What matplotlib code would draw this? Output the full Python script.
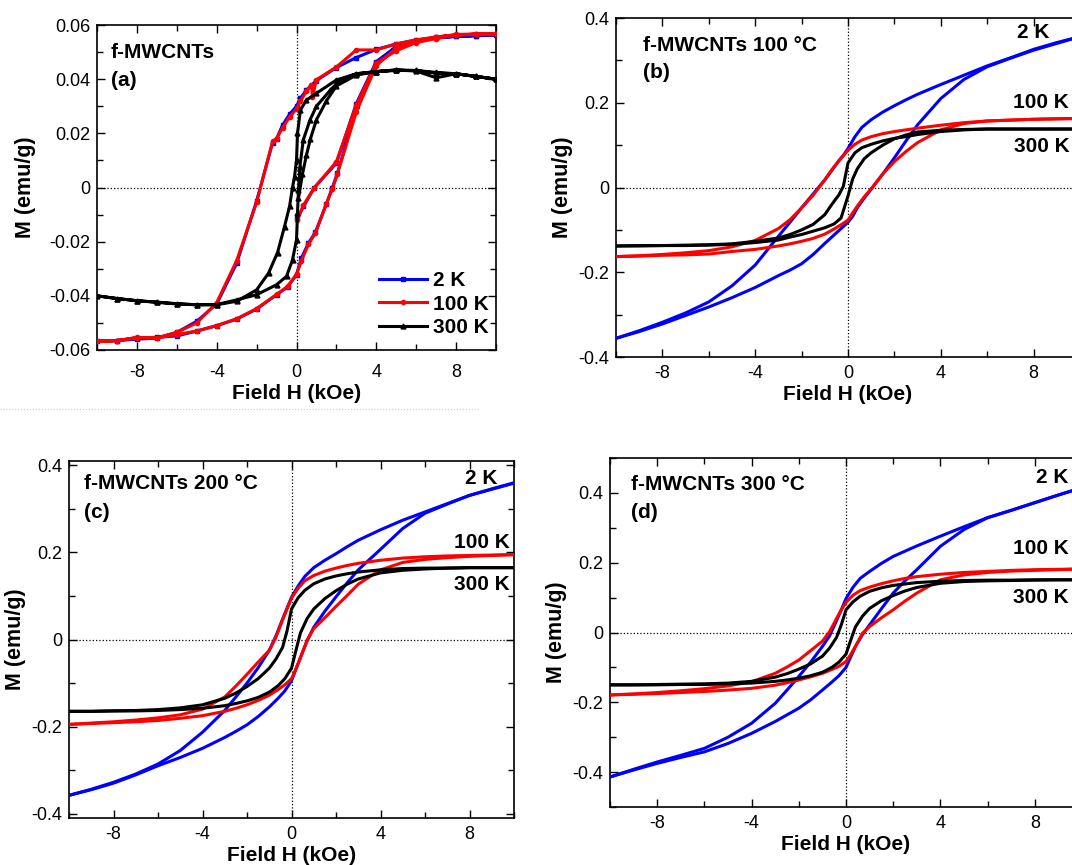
import matplotlib
matplotlib.use("Agg")
import matplotlib.pyplot as plt
from matplotlib.ticker import MultipleLocator, FuncFormatter
from matplotlib.lines import Line2D

plt.rcParams['font.family'] = ['Liberation Sans', 'DejaVu Sans']
plt.rcParams['axes.unicode_minus'] = False

# ---------------- panel (a): f-MWCNTs (sparse points, with markers) ----------------
A_2K_H = [0.05, 0.35, 0.9, 2.0, 3.0, 4.0, 5.0, 6.0, 7.0, 8.0, 9.0, 10.0,
          9, 8, 7, 6, 5, 4, 3, 2, 1, 0.5, 0.2, 0, -0.35, -0.7, -1, -1.2, -2, -3, -4, -5, -6, -7, -8, -9, -10,
          -9, -8, -7, -6, -5, -4, -3, -2, -1, -0.45, 0, 0.25, 0.6, 0.95, 1.5, 1.8, 2.05, 3.05, 4, 5, 6, 7, 8, 9, 10]
A_2K_M = [-0.0113, -0.007, 0.0, 0.009, 0.031, 0.0465, 0.052, 0.054, 0.0552, 0.0558, 0.0561, 0.0563,
          0.056, 0.0558, 0.0553, 0.0545, 0.053, 0.051, 0.048, 0.0443, 0.0395, 0.036, 0.033, 0.030, 0.027, 0.023,
          0.018, 0.0165, -0.005, -0.028, -0.043, -0.0494, -0.0535, -0.0556, -0.056, -0.0565, -0.0568,
          -0.0565, -0.0556, -0.0553, -0.0548, -0.053, -0.051, -0.0486, -0.0449, -0.0396, -0.0368, -0.0322,
          -0.026, -0.0205, -0.0165, -0.006, 0.0, 0.0053, 0.030, 0.0459, 0.052, 0.0542, 0.0555, 0.0562, 0.0563, 0.0565]

A_100K_H = [0.05, 0.35, 0.9, 2.0, 3.0, 4.0, 5.0, 6.0, 7, 8, 9, 10,
            9, 8, 7, 6, 5, 4, 3, 2, 1, 0.8, 0.75, 0.5, 0.2, 0, -0.35, -0.7, -1, -1.2, -2, -3, -4, -5, -6, -7, -8, -9, -10,
            -9, -8, -7, -6, -5, -4, -3, -2, -1, -0.45, 0, 0.25, 0.6, 0.95, 1.5, 1.8, 2.05, 3, 4, 5, 6, 7, 8, 9, 10]
A_100K_M = [-0.012, -0.0065, 0.0, 0.0095, 0.0305, 0.046, 0.0505, 0.0535, 0.055, 0.0563, 0.0566, 0.0567,
            0.0566, 0.0563, 0.0556, 0.0545, 0.053, 0.0508, 0.0508, 0.0445, 0.0398, 0.0335, 0.038, 0.0355, 0.032,
            0.029, 0.026, 0.022, 0.018, 0.017, -0.0055, -0.027, -0.0425, -0.050, -0.0535, -0.0555, -0.0555,
            -0.0565, -0.0568,
            -0.0566, -0.0553, -0.0556, -0.0543, -0.053, -0.051, -0.0485, -0.0447, -0.0395, -0.0365, -0.032,
            -0.027, -0.021, -0.0168, -0.006, -0.0005, 0.005, 0.028, 0.045, 0.0515, 0.054, 0.0555, 0.0565,
            0.0567, 0.0567]

A_300K_H = [0.1, 0.3, 0.5, 0.7, 1.0, 1.5, 2.0, 3.0, 4.0, 5, 6, 7, 8, 9, 10,
            9, 8, 7, 6, 5, 4, 3, 2, 1, 0.5, 0.2, 0.05, 0, -0.1, -0.2, -0.35, -0.6, -0.95, -1.4, -2, -3, -4, -5,
            -6, -7, -8, -9, -10,
            -9, -8, -7, -6, -5, -4, -3, -2, -1, -0.5, -0.2, 0, 0.05, 0.1, 0.17, 0.34, 0.68, 1.0, 1.7, 2.2, 3, 4,
            5, 6, 7, 8, 9, 10]
A_300K_M = [-0.004, 0.005, 0.012, 0.018, 0.025, 0.032, 0.0375, 0.0415, 0.0428, 0.0432, 0.0432, 0.0425,
            0.042, 0.041, 0.040,
            0.041, 0.042, 0.0405, 0.043, 0.0434, 0.0428, 0.042, 0.0397, 0.0348, 0.0323, 0.0287, 0.020, 0.010,
            0.004, 0.0, -0.007, -0.0144, -0.024, -0.0316, -0.0378, -0.042, -0.0433, -0.0433, -0.0429, -0.0423,
            -0.0418, -0.041, -0.040,
            -0.041, -0.0418, -0.0424, -0.043, -0.0433, -0.0432, -0.0415, -0.0396, -0.0359, -0.0328, -0.0267,
            -0.0193, -0.0095, -0.001, 0.0077, 0.0176, 0.025, 0.030, 0.036, 0.0397, 0.042, 0.0428, 0.0434,
            0.0432, 0.0422, 0.042, 0.041, 0.040]

# ---------------- panels (b)-(d): field grid of descending / ascending branches ----------------
H_DOWN = [10, 9, 8, 7, 6, 5, 4, 3, 2.5, 2, 1.5, 1, 0.6, 0.3, 0, -0.2, -0.4, -0.7, -1, -1.5, -2, -2.5, -3,
          -4, -5, -6, -7, -8, -9, -10]
H_UP = [-10, -9, -8, -7, -6, -5, -4, -3, -2.5, -2, -1.5, -1, -0.6, -0.3, 0, 0.2, 0.4, 0.7, 1, 1.5, 2, 2.5, 3,
        4, 5, 6, 7, 8, 9, 10]

# (b) f-MWCNTs 100 C
B_2K_DOWN = [0.356, 0.342, 0.326, 0.306, 0.287, 0.265, 0.243, 0.220, 0.207, 0.193, 0.178, 0.160, 0.142, 0.120,
             0.092, 0.076, 0.063, 0.040, 0.018, -0.015, -0.048, -0.082, -0.115, -0.183, -0.232, -0.270, -0.296,
             -0.318, -0.338, -0.356]
B_2K_UP = [-0.356, -0.340, -0.322, -0.302, -0.282, -0.260, -0.236, -0.208, -0.195, -0.180, -0.158, -0.132,
           -0.112, -0.097, -0.082, -0.068, -0.048, -0.025, -0.004, 0.032, 0.070, 0.110, 0.148, 0.210, 0.255,
           0.285, 0.305, 0.324, 0.340, 0.356]
B_100K_DOWN = [0.163, 0.162, 0.161, 0.159, 0.157, 0.153, 0.147, 0.140, 0.136, 0.132, 0.127, 0.120, 0.112,
               0.102, 0.088, 0.075, 0.062, 0.042, 0.018, -0.018, -0.048, -0.076, -0.097, -0.125, -0.140, -0.149,
               -0.154, -0.158, -0.161, -0.163]
B_100K_UP = [-0.163, -0.162, -0.160, -0.159, -0.157, -0.151, -0.146, -0.138, -0.133, -0.127, -0.120, -0.110,
             -0.098, -0.088, -0.077, -0.060, -0.044, -0.022, -0.003, 0.032, 0.061, 0.085, 0.106, 0.136, 0.151,
             0.157, 0.159, 0.161, 0.162, 0.163]
B_300K_DOWN = [0.138, 0.138, 0.138, 0.138, 0.138, 0.136, 0.132, 0.125, 0.120, 0.116, 0.110, 0.102, 0.094,
               0.082, 0.058, 0.003, -0.018, -0.040, -0.064, -0.087, -0.100, -0.111, -0.119, -0.127, -0.133,
               -0.135, -0.136, -0.137, -0.137, -0.138]
B_300K_UP = [-0.138, -0.138, -0.137, -0.137, -0.136, -0.134, -0.130, -0.124, -0.117, -0.111, -0.103, -0.095,
             -0.086, -0.072, -0.020, 0.020, 0.044, 0.068, 0.082, 0.100, 0.115, 0.124, 0.131, 0.135, 0.137,
             0.138, 0.138, 0.138, 0.138, 0.138]

# (c) f-MWCNTs 200 C
C_2K_DOWN = [0.359, 0.345, 0.331, 0.312, 0.293, 0.274, 0.252, 0.228, 0.213, 0.197, 0.182, 0.165, 0.145, 0.123,
             0.097, 0.072, 0.047, 0.008, -0.025, -0.065, -0.100, -0.132, -0.163, -0.213, -0.255, -0.286, -0.309,
             -0.328, -0.344, -0.358]
C_2K_UP = [-0.358, -0.345, -0.330, -0.311, -0.290, -0.271, -0.250, -0.225, -0.211, -0.196, -0.177, -0.155,
           -0.135, -0.118, -0.095, -0.068, -0.042, -0.003, 0.028, 0.065, 0.098, 0.130, 0.160, 0.207, 0.255,
           0.290, 0.311, 0.331, 0.346, 0.360]
C_100K_DOWN = [0.195, 0.194, 0.193, 0.192, 0.190, 0.187, 0.182, 0.175, 0.170, 0.164, 0.157, 0.147, 0.135,
               0.118, 0.095, 0.070, 0.045, 0.005, -0.025, -0.052, -0.080, -0.107, -0.132, -0.160, -0.173, -0.180,
               -0.185, -0.189, -0.192, -0.195]
C_100K_UP = [-0.195, -0.193, -0.191, -0.189, -0.186, -0.181, -0.175, -0.165, -0.158, -0.150, -0.140, -0.128,
             -0.115, -0.104, -0.090, -0.068, -0.042, -0.002, 0.025, 0.050, 0.076, 0.101, 0.127, 0.160, 0.177,
             0.184, 0.188, 0.191, 0.193, 0.195]
C_300K_DOWN = [0.165, 0.165, 0.165, 0.164, 0.164, 0.163, 0.160, 0.155, 0.151, 0.146, 0.139, 0.128, 0.113,
               0.096, 0.070, 0.020, -0.018, -0.045, -0.066, -0.090, -0.108, -0.123, -0.135, -0.150, -0.157,
               -0.161, -0.163, -0.164, -0.165, -0.165]
C_300K_UP = [-0.165, -0.165, -0.164, -0.164, -0.163, -0.161, -0.158, -0.152, -0.147, -0.141, -0.133, -0.121,
             -0.106, -0.090, -0.066, -0.025, 0.015, 0.048, 0.070, 0.094, 0.112, 0.127, 0.139, 0.153, 0.159,
             0.162, 0.164, 0.165, 0.165, 0.165]

# (d) f-MWCNTs 300 C
D_2K_DOWN = [0.415, 0.394, 0.372, 0.350, 0.329, 0.303, 0.276, 0.248, 0.233, 0.218, 0.198, 0.175, 0.155, 0.130,
             0.097, 0.065, 0.034, -0.010, -0.040, -0.085, -0.126, -0.165, -0.203, -0.260, -0.300, -0.332, -0.352,
             -0.371, -0.392, -0.414]
D_2K_UP = [-0.414, -0.394, -0.375, -0.358, -0.342, -0.318, -0.289, -0.255, -0.236, -0.217, -0.193, -0.165,
           -0.142, -0.124, -0.100, -0.070, -0.040, -0.006, 0.022, 0.068, 0.113, 0.148, 0.180, 0.247, 0.295,
           0.329, 0.350, 0.372, 0.394, 0.415]
D_100K_DOWN = [0.182, 0.181, 0.180, 0.178, 0.175, 0.172, 0.167, 0.160, 0.155, 0.148, 0.140, 0.130, 0.120,
               0.107, 0.086, 0.065, 0.040, 0.002, -0.025, -0.052, -0.079, -0.099, -0.117, -0.141, -0.153, -0.161,
               -0.167, -0.172, -0.176, -0.179]
D_100K_UP = [-0.179, -0.177, -0.175, -0.172, -0.169, -0.165, -0.160, -0.151, -0.144, -0.136, -0.127, -0.117,
             -0.106, -0.097, -0.083, -0.063, -0.040, -0.002, 0.017, 0.042, 0.065, 0.090, 0.113, 0.151, 0.165,
             0.172, 0.176, 0.178, 0.180, 0.182]
D_300K_DOWN = [0.151, 0.151, 0.151, 0.150, 0.150, 0.149, 0.147, 0.143, 0.139, 0.135, 0.128, 0.118, 0.104,
               0.088, 0.065, 0.022, -0.014, -0.045, -0.068, -0.090, -0.105, -0.118, -0.128, -0.140, -0.145,
               -0.147, -0.148, -0.149, -0.150, -0.150]
D_300K_UP = [-0.150, -0.150, -0.150, -0.149, -0.149, -0.147, -0.145, -0.140, -0.136, -0.131, -0.124, -0.114,
             -0.100, -0.085, -0.062, -0.022, 0.016, 0.047, 0.069, 0.091, 0.106, 0.119, 0.129, 0.141, 0.146,
             0.148, 0.149, 0.150, 0.151, 0.151]

COLORS = ['#0000ff', '#ff0000', '#000000']


def fmt(v, pos):
    if abs(v) < 1e-9:
        return '0'
    return f'{v:g}'


def style_axes(ax, ylim, ymajor, yminor, xpad=6, ylabelpad=4):
    ax.set_xlim(-10, 10)
    ax.set_ylim(*ylim)
    ax.xaxis.set_major_locator(MultipleLocator(4))
    ax.xaxis.set_minor_locator(MultipleLocator(2))
    ax.yaxis.set_major_locator(MultipleLocator(ymajor))
    ax.yaxis.set_minor_locator(MultipleLocator(yminor))
    ax.xaxis.set_major_formatter(FuncFormatter(fmt))
    ax.yaxis.set_major_formatter(FuncFormatter(fmt))
    ax.tick_params(which='both', direction='in', top=True, right=True, labelsize=13, width=1.0)
    ax.tick_params(which='major', length=6)
    ax.tick_params(which='minor', length=4)
    ax.tick_params(axis='x', which='major', pad=xpad)
    ax.tick_params(axis='y', which='major', pad=5)
    for s in ax.spines.values():
        s.set_linewidth(1.2)
    ax.axhline(0, color='k', ls=':', lw=0.9, zorder=1)
    ax.axvline(0, color='k', ls=':', lw=0.9, zorder=1)
    ax.set_xlabel('Field H (kOe)', fontsize=15, fontweight='bold', labelpad=2)
    ax.set_ylabel('M (emu/g)', fontsize=15.5, fontweight='bold', labelpad=ylabelpad)


fig = plt.figure(figsize=(10.72, 8.65), dpi=100)
W, Hf = 1072.0, 865.0


def add_ax(left, top, right, bottom):
    return fig.add_axes([left / W, 1 - bottom / Hf, (right - left) / W, (bottom - top) / Hf])


# panel (a)
ax = add_ax(97, 25, 496, 350)
style_axes(ax, (-0.06, 0.06), 0.02, 0.01, xpad=10, ylabelpad=9)
for hs, ms, c, lab, mk, msz in [(A_2K_H, A_2K_M, COLORS[0], '2 K', 's', 3.5),
                                (A_100K_H, A_100K_M, COLORS[1], '100 K', 'o', 3),
                                (A_300K_H, A_300K_M, COLORS[2], '300 K', '^', 3.5)]:
    ax.plot(hs, ms, color=c, lw=2.2, marker=mk, ms=msz, label=lab, zorder=3)
ax.text(0.035, 0.915, 'f-MWCNTs', transform=ax.transAxes, fontsize=15, fontweight='bold', va='center')
ax.text(0.035, 0.83, '(a)', transform=ax.transAxes, fontsize=15, fontweight='bold', va='center')
ax.legend(loc='lower right', bbox_to_anchor=(1.03, -0.018), frameon=False, handlelength=2.3,
          handletextpad=0.3, labelspacing=0.22, prop={'size': 15, 'weight': 'bold'})

panels = [
    ((616, 18, 1080, 357), (-0.4, 0.4), 'f-MWCNTs 100 °C', '(b)',
     [(B_2K_DOWN, B_2K_UP), (B_100K_DOWN, B_100K_UP), (B_300K_DOWN, B_300K_UP)],
     (0.058, 0.92, 0.84), [(0.864, 0.956, 'left', '2 K'), (0.976, 0.752, 'right', '100 K'),
                           (0.978, 0.62, 'right', '300 K')]),
    ((69, 461, 514, 818), (-0.41, 0.41), 'f-MWCNTs 200 °C', '(c)',
     [(C_2K_DOWN, C_2K_UP), (C_100K_DOWN, C_100K_UP), (C_300K_DOWN, C_300K_UP)],
     (0.034, 0.938, 0.857), [(0.962, 0.95, 'right', '2 K'), (0.99, 0.773, 'right', '100 K'),
                             (0.99, 0.653, 'right', '300 K')]),
    ((610, 458, 1082, 807), (-0.5, 0.5), 'f-MWCNTs 300 °C', '(d)',
     [(D_2K_DOWN, D_2K_UP), (D_100K_DOWN, D_100K_UP), (D_300K_DOWN, D_300K_UP)],
     (0.044, 0.923, 0.845), [(0.972, 0.943, 'right', '2 K'), (0.972, 0.742, 'right', '100 K'),
                             (0.972, 0.60, 'right', '300 K')]),
]

for box, ylim, title, tag, series, tpos, labels in panels:
    ax = add_ax(*box)
    style_axes(ax, ylim, 0.2, 0.1)
    for (down, up), c in zip(series, COLORS):
        ax.plot(H_DOWN, down, color=c, lw=2.2, zorder=3)
        ax.plot(H_UP, up, color=c, lw=2.2, zorder=3)
    ax.text(tpos[0], tpos[1], title, transform=ax.transAxes, fontsize=15, fontweight='bold', va='center')
    ax.text(tpos[0], tpos[2], tag, transform=ax.transAxes, fontsize=15, fontweight='bold', va='center')
    for x, y, ha, t in labels:
        ax.text(x, y, t, transform=ax.transAxes, fontsize=15, fontweight='bold', va='center', ha=ha,
                clip_on=False)

# faint dotted separator under panel (a)
fig.add_artist(Line2D([0, 478 / W], [1 - 409 / Hf, 1 - 409 / Hf], color='#c8c8c8', ls=':', lw=0.8))

fig.savefig('out.png', dpi=100)
